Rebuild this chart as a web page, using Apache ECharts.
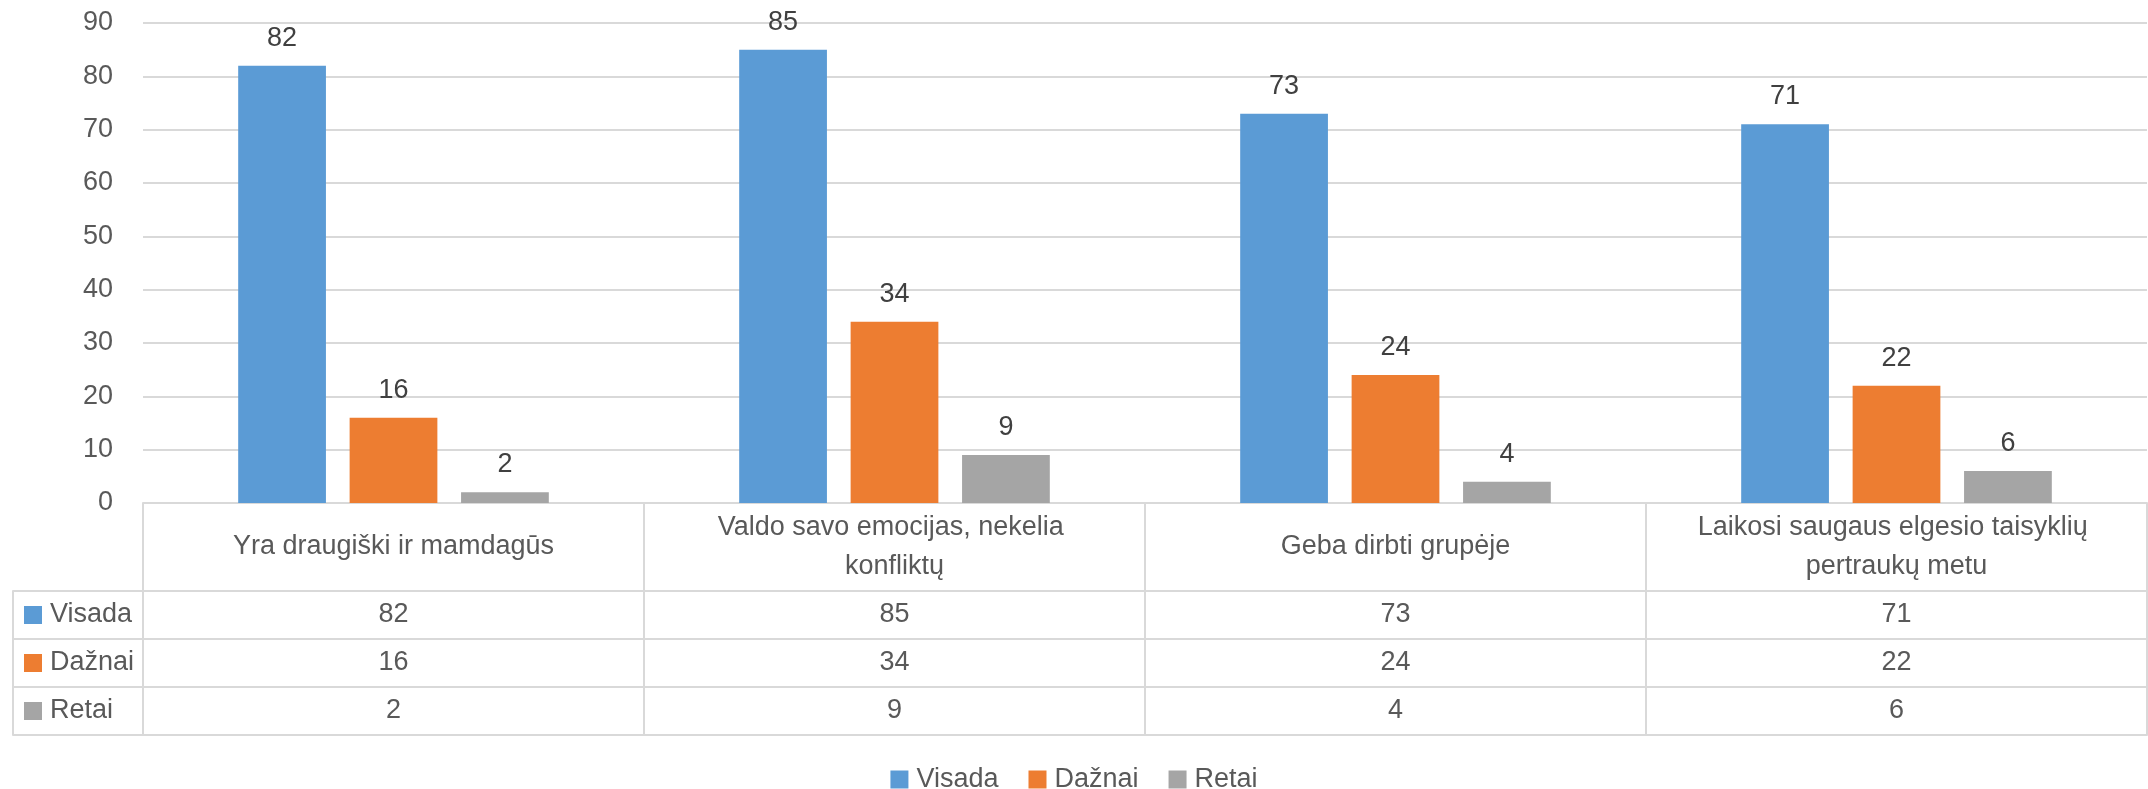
<!DOCTYPE html>
<html>
<head>
<meta charset="utf-8">
<script src="https://cdn.jsdelivr.net/npm/echarts/dist/echarts.min.js"></script>
<style>
  html, body { margin: 0; padding: 0; background: #fff; }
  #chart { width: 2148px; height: 789px; }
</style>
</head>
<body>
<div id="chart"></div>
<script>
// data
const categories = [
  'Yra draugiški ir mamdagūs',
  'Valdo savo emocijas, nekelia konfliktų',
  'Geba dirbti grupėje',
  'Laikosi saugaus elgesio taisyklių pertraukų metu'
]
const seriesNames = ['Visada', 'Dažnai', 'Retai']
const visada = [82, 85, 73, 71]
const daznai = [16, 34, 24, 22]
const retai = [2, 9, 4, 6]
const yMin = 0
const yMax = 90
const yStep = 10

const values = [visada, daznai, retai]
const colors = ['#5B9BD5', '#ED7D31', '#A5A5A5']
const font = "'Liberation Sans', Arial, sans-serif"
const fontSize = 27
const lineColor = '#D9D9D9'
const headerH = 88
const rowH = 48

const chart = echarts.init(document.getElementById('chart'))

const border = { show: true, onZero: false, lineStyle: { color: lineColor, width: 2 } }
const xAxes = []
// header row with category names
xAxes.push({
  type: 'category',
  gridIndex: 0,
  data: categories,
  axisLine: border,
  axisTick: { show: true, length: headerH, lineStyle: { color: lineColor, width: 2 } },
  axisLabel: {
    interval: 0,
    margin: headerH / 2,
    verticalAlign: 'middle',
    color: '#595959',
    fontFamily: font,
    fontSize: fontSize,
    width: 430,
    overflow: 'break',
    lineHeight: 39
  }
})
values.forEach((arr, i) => {
  // value row of the data table
  xAxes.push({
    type: 'category',
    gridIndex: 0,
    position: 'bottom',
    offset: headerH + rowH * i,
    data: categories,
    axisLine: border,
    axisTick: { show: true, length: rowH, lineStyle: { color: lineColor, width: 2 } },
    axisLabel: {
      interval: 0,
      margin: rowH / 2,
      verticalAlign: 'middle',
      color: '#595959',
      fontFamily: font,
      fontSize: fontSize,
      formatter: (v, idx) => String(arr[idx])
    }
  })
  // row header cell borders
  xAxes.push({
    type: 'category',
    gridIndex: 1,
    position: 'bottom',
    offset: headerH + rowH * i,
    data: [''],
    axisLine: border,
    axisTick: { show: true, length: rowH, lineStyle: { color: lineColor, width: 2 } },
    axisLabel: { show: false }
  })
  // row header text (legend key + series name)
  xAxes.push({
    type: 'category',
    gridIndex: 2,
    position: 'bottom',
    offset: headerH + rowH * i,
    data: [seriesNames[i]],
    axisLine: { show: false, onZero: false },
    axisTick: { show: false },
    axisLabel: {
      interval: 0,
      margin: rowH / 2,
      align: 'left',
      verticalAlign: 'middle',
      fontFamily: font,
      fontSize: fontSize,
      color: '#595959',
      formatter: v => '{m|}{t|' + v + '}',
      rich: {
        m: { width: 18, height: 18, backgroundColor: colors[i] },
        t: { padding: [0, 0, 0, 8], color: '#595959', fontFamily: font, fontSize: fontSize }
      }
    }
  })
})
// bottom border of table
xAxes.push({
  type: 'category', gridIndex: 0, position: 'bottom', offset: headerH + rowH * 3,
  data: categories, axisLine: border, axisTick: { show: false }, axisLabel: { show: false }
})
xAxes.push({
  type: 'category', gridIndex: 1, position: 'bottom', offset: headerH + rowH * 3,
  data: [''], axisLine: border, axisTick: { show: false }, axisLabel: { show: false }
})

chart.setOption({
  animation: false,
  textStyle: { fontFamily: font },
  grid: [
    { left: 143, right: 1, top: 23, bottom: 286, outerBoundsMode: 'none' },
    { left: 13, width: 130, top: 23, bottom: 286, outerBoundsMode: 'none' },
    { left: 0, width: 48, top: 23, bottom: 286, outerBoundsMode: 'none' }
  ],
  legend: {
    data: seriesNames,
    left: 'center',
    top: 761,
    icon: 'rect',
    itemWidth: 18,
    itemHeight: 18,
    itemGap: 30,
    textStyle: { color: '#595959', fontFamily: font, fontSize: fontSize, padding: [0, 0, 0, 3] }
  },
  xAxis: xAxes,
  yAxis: [
    {
      type: 'value',
      gridIndex: 0,
      min: yMin,
      max: yMax,
      interval: yStep,
      axisLine: { show: false },
      axisTick: { show: false },
      axisLabel: { color: '#595959', fontFamily: font, fontSize: fontSize, margin: 30 },
      splitLine: { lineStyle: { color: lineColor, width: 2 } }
    },
    { type: 'value', gridIndex: 1, min: 0, max: 1, show: false },
    { type: 'value', gridIndex: 2, min: 0, max: 1, show: false }
  ],
  series: seriesNames.map((name, i) => ({
    name: name,
    type: 'bar',
    xAxisIndex: 0,
    yAxisIndex: 0,
    data: values[i],
    barGap: '27%',
    barCategoryGap: '38%',
    itemStyle: { color: colors[i] },
    label: {
      show: true,
      position: 'top',
      distance: 14,
      color: '#404040',
      fontFamily: font,
      fontSize: fontSize
    }
  }))
})
</script>
</body>
</html>
